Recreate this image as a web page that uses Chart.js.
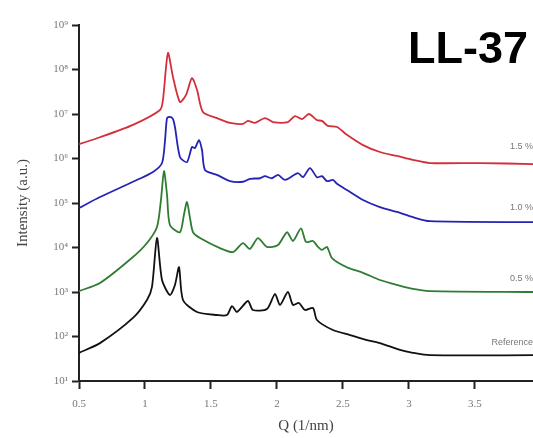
<!DOCTYPE html>
<html>
<head>
<meta charset="utf-8">
<script src="https://cdn.jsdelivr.net/npm/chart.js@4/dist/chart.umd.min.js"></script>
<style>
  html, body { margin: 0; padding: 0; background: #fff; }
  #wrap { width: 533px; height: 438px; position: relative; }
</style>
</head>
<body>
<div id="wrap"><canvas id="chart"></canvas></div>
<script>
// Q (1/nm) and intensity (a.u.), one pair per curve
const q_red = [0.5, 0.659, 0.909, 1.114, 1.136, 1.174, 1.212, 1.265, 1.311, 1.356, 1.394, 1.439, 1.545, 1.644, 1.742, 1.78, 1.833, 1.909, 1.97, 2.083, 2.136, 2.189, 2.242, 2.303, 2.341, 2.386, 2.455, 2.53, 2.652, 2.78, 2.909, 3.03, 3.159, 3.538, 3.94];
const i_red = [2.1e6, 3.0e6, 5.7e6, 1.23e7, 2.07e7, 2.35e8, 6.8e7, 1.86e7, 2.7e7, 6.4e7, 3.5e7, 1.11e7, 8.1e6, 6.3e6, 6.0e6, 7.0e6, 6.3e6, 8.1e6, 6.6e6, 6.6e6, 9.0e6, 7.7e6, 1.0e7, 7.3e6, 7.0e6, 5.4e6, 5.1e6, 3.4e6, 2.0e6, 1.4e6, 1.14e6, 9.3e5, 7.9e5, 7.9e5, 7.5e5];

const q_blue = [0.5, 0.659, 0.909, 1.061, 1.129, 1.152, 1.167, 1.189, 1.212, 1.227, 1.265, 1.318, 1.356, 1.379, 1.409, 1.432, 1.455, 1.545, 1.644, 1.742, 1.795, 1.871, 1.909, 1.962, 2.008, 2.061, 2.159, 2.197, 2.25, 2.303, 2.341, 2.379, 2.424, 2.455, 2.53, 2.652, 2.78, 2.909, 3.03, 3.159, 3.94];
const i_blue = [7.7e4, 1.36e5, 3.0e5, 5.0e5, 7.9e5, 2.6e6, 8.1e6, 8.6e6, 7.7e6, 5.1e6, 1.08e6, 8.3e5, 1.81e6, 1.72e6, 2.6e6, 1.55e6, 5.5e5, 4.3e5, 3.1e5, 3.0e5, 3.5e5, 3.6e5, 4.0e5, 3.6e5, 4.3e5, 3.3e5, 4.7e5, 3.8e5, 6.1e5, 3.8e5, 4.0e5, 3.1e5, 3.3e5, 2.7e5, 1.96e5, 1.17e5, 8.1e4, 6.3e4, 4.8e4, 3.9e4, 3.7e4];

const q_green = [0.5, 0.659, 0.909, 1.015, 1.091, 1.121, 1.144, 1.167, 1.189, 1.265, 1.295, 1.318, 1.341, 1.364, 1.417, 1.568, 1.667, 1.742, 1.795, 1.856, 1.924, 2.008, 2.076, 2.121, 2.182, 2.22, 2.273, 2.311, 2.341, 2.379, 2.417, 2.53, 2.652, 2.78, 2.909, 3.03, 3.159, 3.94];
const i_green = [1.05e3, 1.59e3, 6.1e3, 1.26e4, 2.9e4, 1.17e5, 5.2e5, 1.51e5, 3.2e4, 2.2e4, 5.4e4, 1.05e5, 4.6e4, 2.2e4, 1.63e4, 9.7e3, 7.9e3, 1.26e4, 9.3e3, 1.63e4, 1.03e4, 1.14e4, 2.2e4, 1.4e4, 2.7e4, 1.33e4, 1.4e4, 1.03e4, 8.8e3, 1.03e4, 5.8e3, 3.6e3, 2.7e3, 1.86e3, 1.44e3, 1.17e3, 1.05e3, 1.0e3];

const q_ref = [0.5, 0.659, 0.909, 1.015, 1.053, 1.091, 1.129, 1.189, 1.227, 1.258, 1.288, 1.394, 1.545, 1.621, 1.659, 1.697, 1.78, 1.818, 1.924, 1.985, 2.023, 2.083, 2.121, 2.167, 2.212, 2.273, 2.303, 2.424, 2.553, 2.682, 2.78, 2.932, 3.03, 3.159, 3.94];
const i_ref = [43, 71, 261, 661, 1.3e3, 1.63e4, 1.86e3, 857, 1.44e3, 3.6e3, 661, 356, 304, 304, 484, 356, 628, 394, 415, 902, 511, 1.0e3, 511, 566, 394, 437, 235, 140, 108, 83, 71, 50, 43, 38, 38];

const series_names = ['1.5 %', '1.0 %', '0.5 %', 'Reference'];
const x_ticks = [0.5, 1, 1.5, 2, 2.5, 3, 3.5];
const y_ticks = [1e1, 1e2, 1e3, 1e4, 1e5, 1e6, 1e7, 1e8, 1e9];

const SUP = { '0': '\u2070', '1': '\u00b9', '2': '\u00b2', '3': '\u00b3', '4': '\u2074', '5': '\u2075', '6': '\u2076', '7': '\u2077', '8': '\u2078', '9': '\u2079' };
const pow_label = (v) => {
  const e = String(Math.round(Math.log10(v)));
  return '10' + e.split('').map(c => SUP[c]).join('');
};

const to_points = (qs, is) => qs.map((q, i) => ({ x: q, y: is[i] }));

const line = (label, qs, is, color) => ({
  label: label,
  data: to_points(qs, is),
  showLine: true,
  borderColor: color,
  borderWidth: 1.8,
  pointRadius: 0,
  tension: 0.25,
  fill: false,
});

// curve names at the right edge plus the LL-37 heading
const labelPlugin = {
  id: 'labels',
  afterDraw(chart) {
    const ctx = chart.ctx;
    const ys = chart.scales.y;
    const spots = [[1.9e6, 0], [8.1e4, 1], [2.0e3, 2], [75, 3]];
    ctx.save();
    ctx.fillStyle = '#777';
    ctx.font = '9px "Liberation Sans", sans-serif';
    ctx.textAlign = 'right';
    ctx.textBaseline = 'middle';
    for (const [val, idx] of spots) {
      ctx.fillText(series_names[idx], 533, ys.getPixelForValue(val));
    }
    ctx.fillStyle = '#000';
    ctx.font = 'bold 45px "Liberation Sans", Arial, sans-serif';
    ctx.textBaseline = 'alphabetic';
    ctx.fillText('LL-37', 528, 63);
    ctx.restore();
  }
};

new Chart(document.getElementById('chart'), {
  type: 'scatter',
  data: {
    datasets: [
      line(series_names[0], q_red, i_red, '#d2303b'),
      line(series_names[1], q_blue, i_blue, '#2424b4'),
      line(series_names[2], q_green, i_green, '#2e7d32'),
      line(series_names[3], q_ref, i_ref, '#111111'),
    ]
  },
  options: {
    responsive: true,
    maintainAspectRatio: false,
    animation: false,
    layout: { padding: { top: 25, right: 0, bottom: 0, left: 14 } },
    plugins: {
      legend: { display: false },
      tooltip: { enabled: false },
    },
    scales: {
      x: {
        type: 'linear',
        min: 0.5,
        max: 3.94,
        afterBuildTicks: (scale) => { scale.ticks = x_ticks.map(v => ({ value: v })); },
        afterFit: (scale) => { scale.height = 57; },
        border: { display: true, color: '#222', width: 2 },
        grid: { display: true, drawOnChartArea: false, drawTicks: true, tickLength: 8, tickColor: '#222', tickWidth: 2 },
        ticks: {
          color: '#777',
          padding: 9,
          maxRotation: 0,
          font: { family: '"Liberation Serif", serif', size: 11 },
          callback: (v) => String(v),
        },
        title: {
          display: true,
          text: 'Q (1/nm)',
          color: '#444',
          padding: { top: 0, bottom: 3 },
          font: { family: '"Liberation Serif", serif', size: 15 },
        },
      },
      y: {
        type: 'logarithmic',
        min: 10,
        max: 1e9,
        afterBuildTicks: (scale) => { scale.ticks = y_ticks.map(v => ({ value: v })); },
        afterFit: (scale) => { scale.width = 65; },
        border: { display: true, color: '#222', width: 2 },
        grid: { display: true, drawOnChartArea: false, drawTicks: true, tickLength: 7, tickColor: '#222', tickWidth: 2 },
        ticks: {
          color: '#777',
          padding: 4,
          font: { family: '"Liberation Serif", serif', size: 11 },
          callback: (v) => pow_label(v),
        },
        title: {
          display: true,
          text: 'Intensity (a.u.)',
          color: '#444',
          padding: { top: 0, bottom: 4 },
          font: { family: '"Liberation Serif", serif', size: 15 },
        },
      },
    },
  },
  plugins: [labelPlugin],
});
</script>
</body>
</html>
